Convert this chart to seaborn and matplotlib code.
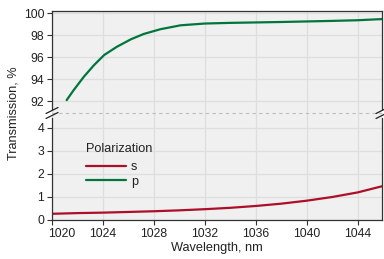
import matplotlib
matplotlib.use("Agg")
import matplotlib.pyplot as plt
import matplotlib.transforms as mtransforms
from matplotlib.lines import Line2D
import seaborn as sns
import pandas as pd

# ---- data ----
wl_p = [1021.15, 1021.7, 1022.5, 1023.3, 1024.1, 1025.1, 1026.2, 1027.2, 1028.5,
        1030.1, 1032, 1034, 1036, 1038, 1040, 1042, 1044, 1046]
t_p = [92.09, 93.0, 94.22, 95.28, 96.2, 96.95, 97.63, 98.11, 98.54,
       98.9, 99.06, 99.12, 99.16, 99.2, 99.25, 99.3, 99.36, 99.47]
wl_s = [1020, 1022, 1024, 1026, 1028, 1030, 1032, 1034, 1036, 1038, 1040, 1042, 1044, 1046]
t_s = [0.27, 0.30, 0.32, 0.35, 0.38, 0.42, 0.47, 0.53, 0.61, 0.71, 0.84, 1.0, 1.2, 1.48]
x_ticks = [1020, 1024, 1028, 1032, 1036, 1040, 1044]
top_ticks = [92, 94, 96, 98, 100]
bot_ticks = [0, 1, 2, 3, 4]
series = ["s", "p"]
colors = {"s": "#ad0f28", "p": "#00763d"}

df = pd.DataFrame({
    "Wavelength": wl_s + wl_p,
    "Transmission": t_s + t_p,
    "Polarization": ["s"] * len(wl_s) + ["p"] * len(wl_p),
})

sns.set_theme(style="ticks")
plt.rcParams["font.family"] = ["Liberation Sans", "DejaVu Sans"]

W, H = 384, 259
fig = plt.figure(figsize=(W / 100, H / 100), dpi=100)

def fx(px):
    return px / W

def fy(py):
    return 1 - py / H

L, R, T, B, BR = 52, 382, 11, 220, 113
ax_top = fig.add_axes([fx(L), fy(BR), fx(R - L), fy(T) - fy(BR)])
ax_bot = fig.add_axes([fx(L), fy(B), fx(R - L), fy(BR) - fy(B)], sharex=ax_top)

bg = "#f0f0f0"
gridc = "#dedede"
spc = "#333333"
for ax in (ax_top, ax_bot):
    ax.set_facecolor(bg)
    sns.lineplot(data=df, x="Wavelength", y="Transmission", hue="Polarization",
                 hue_order=series, palette=colors, linewidth=1.6, ax=ax,
                 legend=False, estimator=None, sort=True)
    ax.grid(True, color=gridc, linewidth=0.9)
    ax.set_axisbelow(True)
    for s in ax.spines.values():
        s.set_color(spc)
        s.set_linewidth(0.9)
    ax.tick_params(colors=spc, labelcolor="#222222", labelsize=8.8, length=3.5,
                   width=0.8, pad=2)
    ax.set_xlabel("")
    ax.set_ylabel("")

ax_top.set_xlim(1020, 1045.9)
ax_top.set_ylim(90.92, 100.2)
ax_bot.set_ylim(0, 4.65)
ax_top.set_yticks(top_ticks)
ax_bot.set_yticks(bot_ticks)
ax_bot.set_xticks(x_ticks)
ax_top.spines["bottom"].set_visible(False)
ax_bot.spines["top"].set_visible(False)
ax_top.tick_params(axis="x", bottom=False, labelbottom=False)
ax_top.spines["left"].set_bounds(91.3, 100.2)
ax_bot.spines["left"].set_bounds(0, 4.45)
ax_top.spines["right"].set_bounds(91.3, 100.2)
ax_bot.spines["right"].set_bounds(0, 4.45)

# shift first x label
lbl = ax_bot.get_xticklabels()[0]
lbl.set_horizontalalignment("left")
lbl.set_transform(lbl.get_transform() + mtransforms.ScaledTranslation(-4 / 100, 0, fig.dpi_scale_trans))

# dashed break line and break marks
fig.add_artist(Line2D([fx(L), fx(R)], [fy(BR), fy(BR)], color="#bdbdbd",
                      linewidth=0.8, linestyle=(0, (3, 3))))
for cx in (L, R):
    for dy in (-2.5, 2.5):
        fig.add_artist(Line2D([fx(cx - 6), fx(cx + 6)], [fy(BR + dy + 3), fy(BR + dy - 3)],
                              color="#222222", linewidth=0.9))

fig.text(fx(217), fy(248), "Wavelength, nm", ha="center", va="center",
         fontsize=9.2, color="#222222")
fig.text(fx(14), fy(113), "Transmission, %", ha="center", va="center",
         rotation=90, fontsize=9.2, color="#222222")

# legend
fig.text(fx(86), fy(149), "Polarization", ha="left", va="center",
         fontsize=9.2, color="#222222")
handles = [Line2D([], [], color=colors[s], linewidth=1.6) for s in series]
leg = ax_bot.legend(handles, series, loc="upper left",
                    bbox_to_anchor=(fx(86), fy(161)), bbox_transform=fig.transFigure,
                    frameon=False, handlelength=3.2, handletextpad=0.4,
                    labelspacing=0.22, borderpad=0, borderaxespad=0,
                    fontsize=9)
for t in leg.get_texts():
    t.set_color("#222222")

fig.savefig("out.png", dpi=100)
